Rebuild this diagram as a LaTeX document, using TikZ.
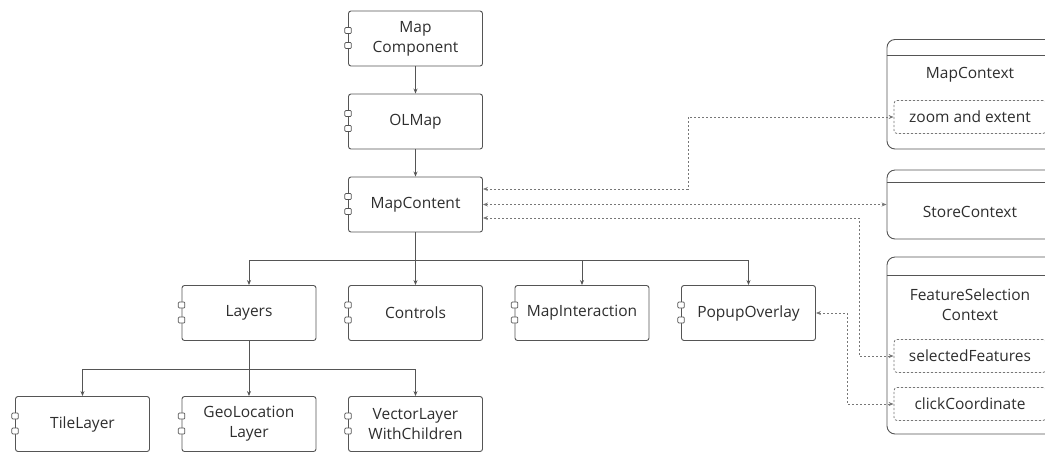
\documentclass[tikz,border=0pt]{standalone}
\usepackage{fontspec}
\setmainfont{Open Sans}
\usetikzlibrary{arrows.meta,calc}

\definecolor{edge}{HTML}{555555}
\definecolor{ink}{HTML}{2E2E2E}
\definecolor{dep}{HTML}{777777}

\tikzset{
  txt/.style={font=\fontsize{15.5}{20}\selectfont},
  comp/.style={draw=edge, line width=0.9pt, rounded corners=2.5pt, fill=white,
    minimum width=134pt, minimum height=55pt, align=center, text=ink,
    txt, inner sep=0pt},
  ctxbox/.style={draw=edge, line width=0.9pt, rounded corners=8pt,
    inner sep=0pt},
  fieldbox/.style={draw=dep, line width=0.8pt, dash pattern=on 2.2pt off 1.8pt,
    rounded corners=3pt, minimum width=152pt, minimum height=33pt,
    text=ink, txt, inner sep=0pt},
  label/.style={text=ink, txt, align=center, inner sep=0pt},
  tree/.style={draw=edge, line width=0.8pt,
    -{Stealth[length=5pt,width=4pt]}},
  link/.style={draw=dep, line width=0.8pt, dash pattern=on 2.2pt off 1.8pt,
    {Stealth[length=5pt,width=4pt]}-{Stealth[length=5pt,width=4pt]}},
  port/.style={draw=edge, line width=0.7pt, fill=white, rounded corners=1pt,
    minimum width=6.5pt, minimum height=6pt, inner sep=0pt},
}

\begin{document}
\begin{tikzpicture}[x=1pt, y=-1pt]
\useasboundingbox (0,0) rectangle (1045,451);

% component boxes
\node[comp] (mapcomp) at (415.5,38.5)  {Map\\Component};
\node[comp] (olmap)   at (415.5,121.5) {OLMap};
\node[comp] (content) at (415.5,204.5) {MapContent};

\node[comp] (layers)   at (249,313)   {Layers};
\node[comp] (controls) at (415.5,313) {Controls};
\node[comp] (interact) at (582,313)   {MapInteraction};
\node[comp] (popup)    at (748.5,313) {PopupOverlay};

\node[comp] (tile)   at (82.5,424)  {TileLayer};
\node[comp] (geo)    at (249,424)   {GeoLocation\\Layer};
\node[comp] (vector) at (415.5,424) {VectorLayer\\WithChildren};

% component ports on the left edge
\foreach \n in {mapcomp,olmap,content,layers,controls,interact,popup,tile,geo,vector}{
  \node[port] at ([yshift=8pt]\n.west) {};
  \node[port] at ([yshift=-7pt]\n.west) {};
}

% context boxes
\node[ctxbox, minimum width=166pt, minimum height=109.5pt] (mapctx) at (970,94.25) {};
\draw[edge, line width=0.9pt] ($(mapctx.north west)+(0,16.5)$) -- ($(mapctx.north east)+(0,16.5)$);
\node[label] (mapctxtitle) at (970,75) {MapContext};
\node[fieldbox] (zoom) at (970,117) {zoom and extent};

\node[ctxbox, minimum width=166pt, minimum height=69pt] (store) at (970,204.5) {};
\draw[edge, line width=0.9pt] ($(store.north west)+(0,13)$) -- ($(store.north east)+(0,13)$);
\node[label] (storetitle) at (970,212) {StoreContext};

\node[ctxbox, minimum width=166pt, minimum height=177pt] (featctx) at (970,345.5) {};
\draw[edge, line width=0.9pt] ($(featctx.north west)+(0,19)$) -- ($(featctx.north east)+(0,19)$);
\node[label] (feattitle) at (970,305) {FeatureSelection\\Context};
\node[fieldbox] (selected) at (970,356) {selectedFeatures};
\node[fieldbox] (click)    at (970,404) {clickCoordinate};

% hierarchy
\draw[tree] (mapcomp.south) -- (olmap.north);
\draw[tree] (olmap.south) -- (content.north);
\draw[tree] (content.south) -- (controls.north);
\draw[tree] (content.south) -- ++(0,28) -| (layers.north);
\draw[tree] (content.south) -- ++(0,28) -| (interact.north);
\draw[tree] (content.south) -- ++(0,28) -| (popup.north);
\draw[tree] (layers.south) -- (geo.north);
\draw[tree] (layers.south) -- ++(0,28) -| (tile.north);
\draw[tree] (layers.south) -- ++(0,28) -| (vector.north);

% context links
\draw[link] ([yshift=15.5pt]content.east) -- ++(205,0) |- (zoom.west);
\draw[link] (content.east) -- (store.west);
\draw[link] ([yshift=-13.5pt]content.east) -- ++(376,0) |- (selected.west);
\draw[link] (popup.east) -- ++(31,0) |- (click.west);
\end{tikzpicture}
\end{document}
